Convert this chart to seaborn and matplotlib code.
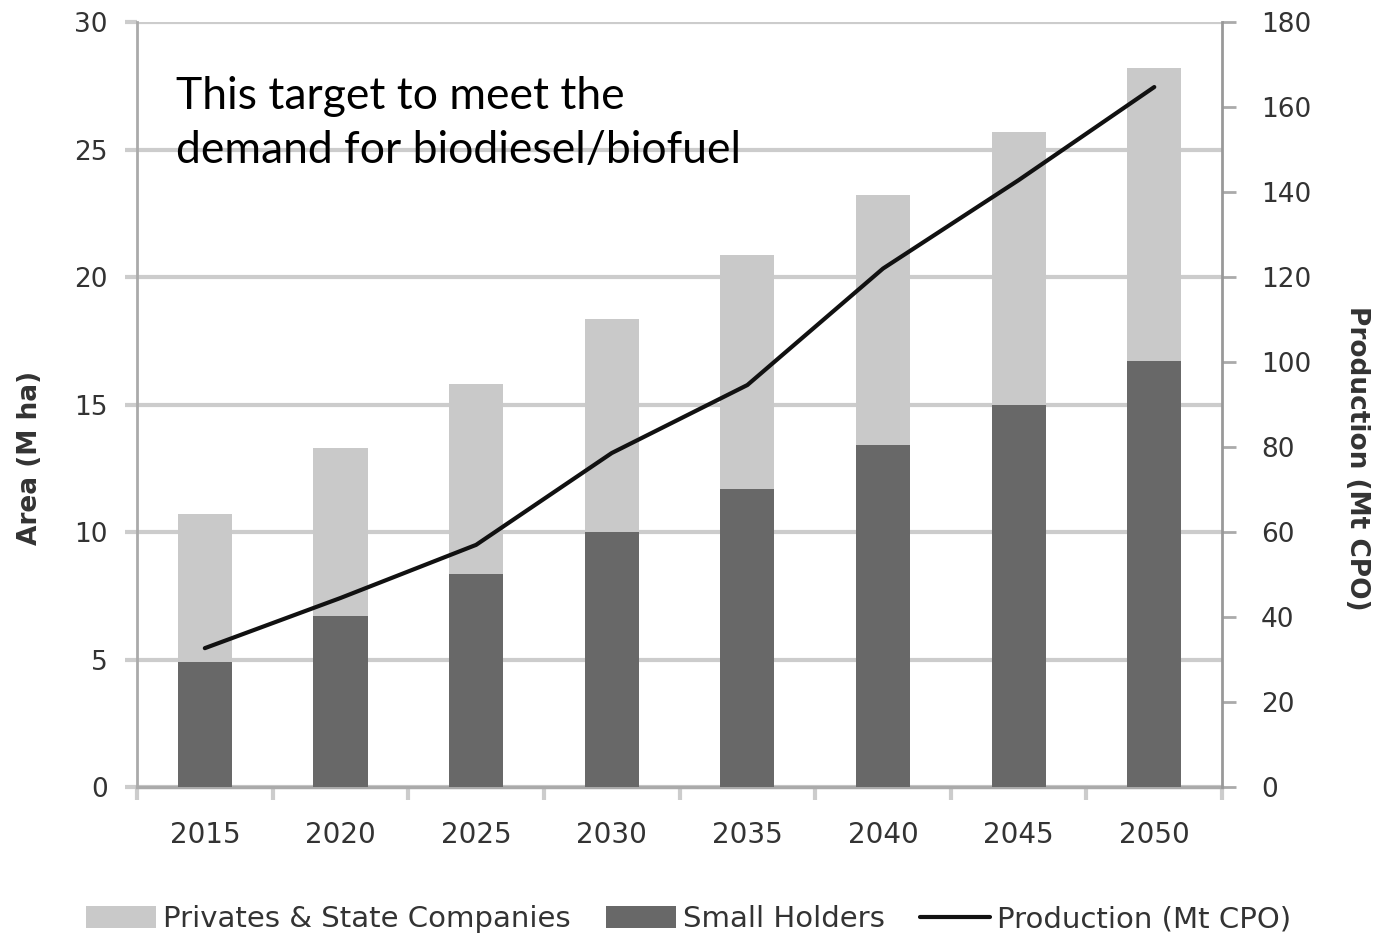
import numpy as np
import pandas as pd
import matplotlib
matplotlib.use("Agg")
import matplotlib.pyplot as plt
import seaborn as sns
from matplotlib.patches import Patch
from matplotlib.lines import Line2D

# values
years = ["2015", "2020", "2025", "2030", "2035", "2040", "2045", "2050"]
total_area = [10.7, 13.3, 15.8, 18.35, 20.85, 23.2, 25.7, 28.2]   # M ha (privates + small holders)
small_holders = [4.9, 6.7, 8.35, 10.0, 11.7, 13.4, 15.0, 16.7]    # M ha
production = [32.7, 44.5, 57.0, 78.6, 94.6, 122.0, 142.8, 164.7]  # Mt CPO

light = "#c9c9c9"
dark = "#686868"
grid_col = "#cccccc"
txt_col = "#333333"

sns.set_theme(style="white")
plt.rcParams["font.family"] = ["DejaVu Sans"]

df = pd.DataFrame({"year": years, "total": total_area, "small": small_holders})

fig = plt.figure(figsize=(13.77, 9.36), dpi=100)
ax = fig.add_axes([0.0995, 0.159, 0.788, 0.8175])

sns.barplot(data=df, x="year", y="total", color=light, width=0.4,
            saturation=1, linewidth=0, ax=ax, zorder=3)
sns.barplot(data=df, x="year", y="small", color=dark, width=0.4,
            saturation=1, linewidth=0, ax=ax, zorder=3)

ax.set_ylim(0, 30)
ax.set_yticks(np.arange(0, 31, 5))
ax.set_xlim(-0.5, len(years) - 0.5)
ax.yaxis.grid(True, color=grid_col, linewidth=3, zorder=0)
ax.set_axisbelow(True)
ax.set_xlabel("")
ax.set_ylabel("Area (M ha)", fontsize=19, fontweight="bold", color=txt_col)
ax.yaxis.set_label_coords(-0.087, 0.43)

ax.spines["top"].set_visible(False)
ax.spines["left"].set_color("#aaaaaa")
ax.spines["left"].set_linewidth(2)
ax.spines["bottom"].set_color("#aaaaaa")
ax.spines["bottom"].set_linewidth(2.5)
ax.spines["right"].set_visible(False)

ax.tick_params(axis="y", which="major", left=True, length=9, width=3, color=grid_col,
               labelsize=19, labelcolor=txt_col, pad=12)
ax.tick_params(axis="x", which="major", bottom=False, labelsize=20, labelcolor=txt_col, pad=18)
ax.set_xticks(np.arange(-0.5, len(years), 1), minor=True)
ax.tick_params(axis="x", which="minor", bottom=True, length=9, width=3, color=grid_col)

ax2 = ax.twinx()
ax2.plot(np.arange(len(years)), production, color="#111111", linewidth=3,
         solid_capstyle="round", zorder=5)
ax2.set_ylim(0, 180)
ax2.set_yticks(np.arange(0, 181, 20))
ax2.grid(False)
for side in ["top", "left", "bottom"]:
    ax2.spines[side].set_visible(False)
ax2.spines["right"].set_color("#999999")
ax2.spines["right"].set_linewidth(2)
ax2.tick_params(axis="y", right=True, length=10, width=2, color="#aaaaaa",
                labelsize=19, labelcolor=txt_col, pad=18)
ax2.set_ylabel("Production (Mt CPO)", fontsize=19, fontweight="bold", color=txt_col,
               rotation=270, va="center")
ax2.yaxis.set_label_coords(1.124, 0.43)

ax.text(0.036, 0.93, "This target to meet the\ndemand for biodiesel/biofuel",
        transform=ax.transAxes, fontsize=32, family=["Lato", "DejaVu Sans"],
        color="black", va="top", ha="left", linespacing=1.4, zorder=6)

handles = [Patch(facecolor=light, edgecolor="none"),
           Patch(facecolor=dark, edgecolor="none"),
           Line2D([0], [0], color="#111111", linewidth=3)]
labels = ["Privates & State Companies", "Small Holders", "Production (Mt CPO)"]
fig.legend(handles, labels, loc="lower center", bbox_to_anchor=(0.5, -0.025), ncol=3,
           frameon=False, fontsize=21, handlelength=2.4, handleheight=0.8,
           handletextpad=0.25, columnspacing=1.2, labelcolor=txt_col)

fig.savefig("out.png", dpi=100)
